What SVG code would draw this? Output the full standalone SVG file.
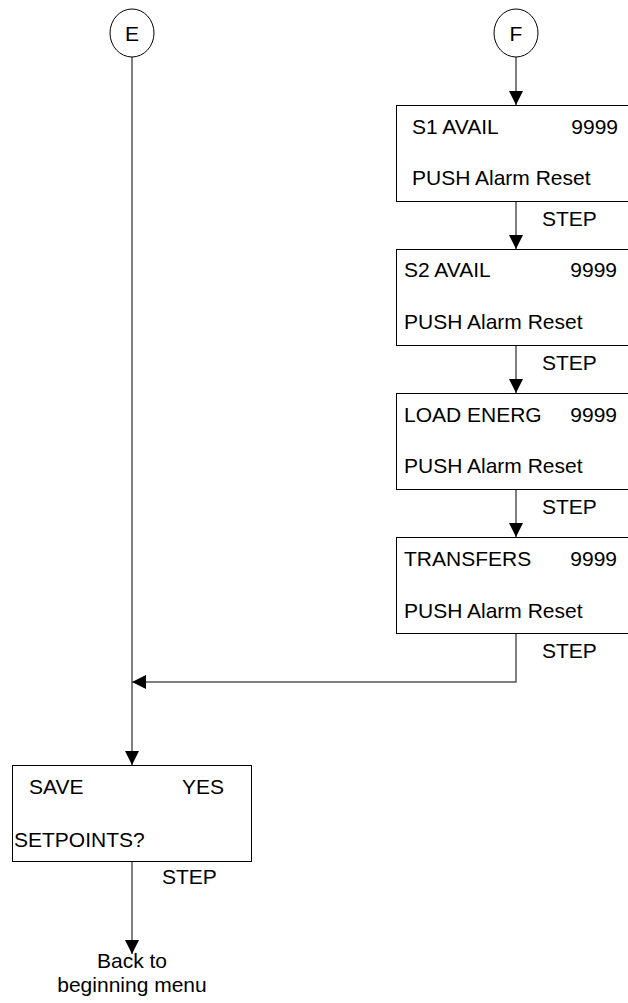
<svg xmlns="http://www.w3.org/2000/svg" width="628" height="1003" viewBox="0 0 628 1003">
<style>
text{font-family:"Liberation Sans",Arial,sans-serif;font-size:21px;fill:#000}
.box{fill:#fff;stroke:#000;stroke-width:1}
.con{fill:none;stroke:#555;stroke-width:1.5}
.mid{text-anchor:middle}
.end{text-anchor:end}
</style>
<defs>
<marker id="arr" markerUnits="userSpaceOnUse" markerWidth="16" markerHeight="16" refX="14" refY="7" orient="auto">
<path d="M0,0 L14,7 L0,14 Z" fill="#000"/>
</marker>
</defs>
<g id="connectors">
<line class="con" x1="132" y1="57" x2="132" y2="765" marker-end="url(#arr)"/>
<line class="con" x1="516" y1="57" x2="516" y2="105" marker-end="url(#arr)"/>
<line class="con" x1="516" y1="201" x2="516" y2="249" marker-end="url(#arr)"/>
<line class="con" x1="516" y1="345" x2="516" y2="393" marker-end="url(#arr)"/>
<line class="con" x1="516" y1="489" x2="516" y2="537" marker-end="url(#arr)"/>
<polyline class="con" points="516,633 516,682 132,682" marker-end="url(#arr)"/>
<line class="con" x1="132" y1="861" x2="132" y2="954" marker-end="url(#arr)"/>
<text x="542" y="226">STEP</text>
<text x="542" y="370">STEP</text>
<text x="542" y="514">STEP</text>
<text x="542" y="658">STEP</text>
<text x="162" y="884">STEP</text>
</g>
<g id="E">
<ellipse cx="132" cy="33" rx="22" ry="24" fill="#fff" stroke="#000"/>
<text class="mid" x="132" y="41">E</text>
</g>
<g id="F">
<ellipse cx="516" cy="33" rx="22" ry="24" fill="#fff" stroke="#000"/>
<text class="mid" x="516" y="41">F</text>
</g>
<g id="s1avail">
<rect class="box" x="396.5" y="105.5" width="240" height="96"/>
<text x="412" y="134">S1 AVAIL</text>
<text class="end" x="618" y="134">9999</text>
<text x="412" y="185">PUSH Alarm Reset</text>
</g>
<g id="s2avail">
<rect class="box" x="396.5" y="249.5" width="240" height="96"/>
<text x="404" y="277">S2 AVAIL</text>
<text class="end" x="617" y="277">9999</text>
<text x="404" y="329">PUSH Alarm Reset</text>
</g>
<g id="loadenerg">
<rect class="box" x="396.5" y="393.5" width="240" height="96"/>
<text x="404" y="422">LOAD ENERG</text>
<text class="end" x="617" y="422">9999</text>
<text x="404" y="473">PUSH Alarm Reset</text>
</g>
<g id="transfers">
<rect class="box" x="396.5" y="537.5" width="240" height="96"/>
<text x="404" y="566">TRANSFERS</text>
<text class="end" x="617" y="566">9999</text>
<text x="404" y="618">PUSH Alarm Reset</text>
</g>
<g id="save">
<rect class="box" x="12.5" y="765.5" width="239" height="96"/>
<text x="29" y="794">SAVE</text>
<text x="182" y="794">YES</text>
<text x="14" y="847">SETPOINTS?</text>
</g>
<g id="back">
<text class="mid" x="132" y="968">Back to</text>
<text class="mid" x="132" y="992">beginning menu</text>
</g>
</svg>
